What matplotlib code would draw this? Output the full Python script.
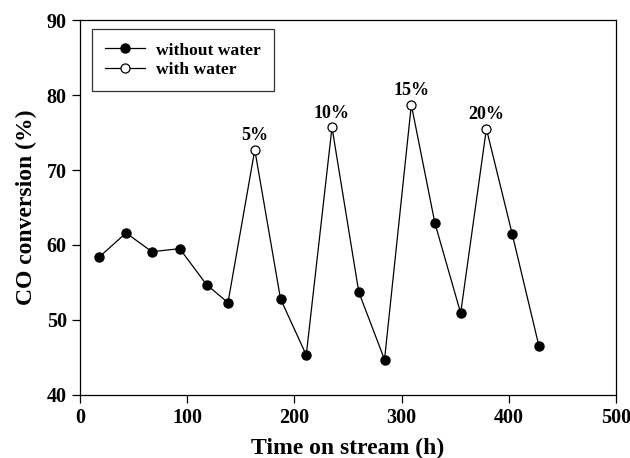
import matplotlib
matplotlib.use('Agg')
import matplotlib.pyplot as plt

plt.rcParams['font.family'] = ['Liberation Serif', 'DejaVu Serif']
plt.rcParams['font.weight'] = 'bold'

# all points in time order (h, %)
time_h = [18, 43, 67, 93, 118, 138, 163, 187, 211, 235, 260, 284, 309, 331, 355, 379, 403, 428]
conv = [58.4, 61.6, 59.1, 59.5, 54.7, 52.3, 72.7, 52.8, 45.3, 75.7, 53.7, 44.7, 78.7, 62.9, 50.9, 75.5, 61.5, 46.5]

# points measured with water added
wet_time = [163, 235, 309, 379]
wet_conv = [72.7, 75.7, 78.7, 75.5]
wet_label = ['5%', '10%', '15%', '20%']

dry_time = [t for t in time_h if t not in wet_time]
dry_conv = [c for t, c in zip(time_h, conv) if t not in wet_time]

fig = plt.figure(figsize=(6.3, 4.58), dpi=100)
ax = fig.add_axes([0.127, 0.138, 0.851, 0.818])

ax.plot(time_h, conv, color='black', lw=0.9, zorder=1)
ax.plot(dry_time, dry_conv, 'o', color='black', ms=6.5, zorder=2)
ax.plot(wet_time, wet_conv, 'o', mfc='white', mec='black', mew=0.9, ms=6.5, zorder=2)

for t, c, s in zip(wet_time, wet_conv, wet_label):
    ax.annotate(s, (t, c), xytext=(0, 4), textcoords='offset points',
                ha='center', va='bottom', fontsize=13, fontweight='bold')

# legend handles
h1, = ax.plot([], [], '-o', color='black', lw=0.9, ms=6.5)
h2, = ax.plot([], [], '-o', color='black', lw=0.9, ms=6.5, mfc='white', mew=0.9)
leg = ax.legend([h1, h2], ['without water', 'with water'], loc='upper left',
                bbox_to_anchor=(0.0224, 0.976), fancybox=False, edgecolor='black',
                prop={'size': 12.6, 'weight': 'bold'}, handlelength=2.3,
                handletextpad=0.6, borderpad=0.75, labelspacing=0.2,
                borderaxespad=0)
leg.get_frame().set_linewidth(0.9)

ax.set_xlim(0, 500)
ax.set_ylim(40, 90)
ax.set_xticks([0, 100, 200, 300, 400, 500])
ax.set_yticks([40, 50, 60, 70, 80, 90])
ax.tick_params(direction='out', length=6, width=0.9, labelsize=14.5)
for lab in ax.get_xticklabels() + ax.get_yticklabels():
    lab.set_fontweight('bold')
for sp in ax.spines.values():
    sp.set_linewidth(0.9)

ax.set_xlabel('Time on stream (h)', fontsize=17, fontweight='bold', labelpad=7)
ax.set_ylabel('CO conversion (%)', fontsize=17, fontweight='bold', labelpad=7)

fig.savefig('out.png', dpi=100)
